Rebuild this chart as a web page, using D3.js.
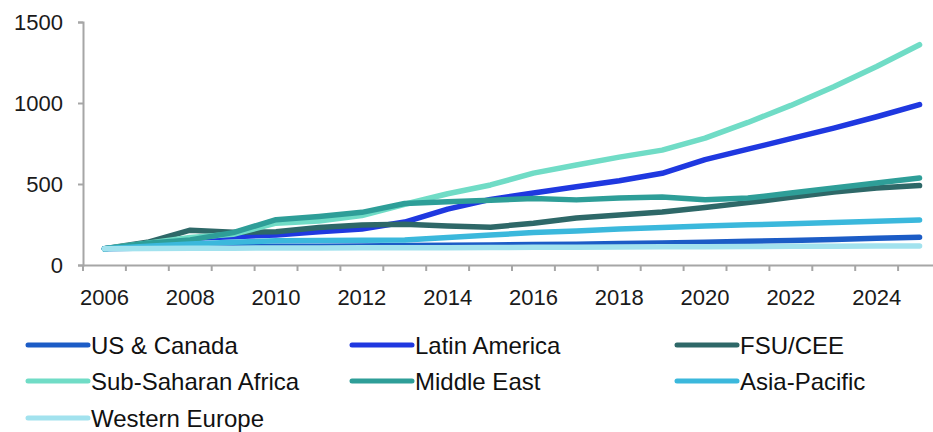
<!DOCTYPE html>
<html>
<head>
<meta charset="utf-8">
<script src="https://cdn.jsdelivr.net/npm/d3@7"></script>
<style>
  body { margin: 0; background: #fff; }
  svg { font-family: "Liberation Sans", Arial, sans-serif; }
</style>
</head>
<body>
<svg id="chart" width="933" height="432"></svg>
<script>
// index, 2006 = 100
const years = d3.range(2006, 2026)
const usCanada      = [100,105,110,112,115,115,117,120,122,124,126,128,132,136,140,146,152,158,165,172]
const latinAmerica  = [100,130,165,175,185,205,222,265,345,405,445,483,520,566,650,715,780,845,915,990]
const fsuCee        = [100,140,215,202,205,232,247,252,240,233,258,290,308,327,355,385,418,450,475,490]
const subSaharan    = [100,135,170,190,258,272,305,375,440,494,567,617,666,709,783,880,985,1100,1225,1360]
const middleEast    = [100,135,155,200,280,300,325,380,390,400,410,402,413,420,403,413,444,475,506,537]
const asiaPacific   = [100,115,130,140,150,152,153,155,170,185,200,210,222,232,240,248,255,262,270,278]
const westernEurope = [100,102,103,104,105,105,106,106,107,108,109,110,111,112,113,114,115,116,117,118]
const yTicks = [0, 500, 1000, 1500]
const xLabels = [2006,2008,2010,2012,2014,2016,2018,2020,2022,2024]

const series = [
  {name: "US & Canada", values: usCanada, color: "#1c5cc6"},
  {name: "Latin America", values: latinAmerica, color: "#1f38e0"},
  {name: "FSU/CEE", values: fsuCee, color: "#2e6868"},
  {name: "Sub-Saharan Africa", values: subSaharan, color: "#70dcc6"},
  {name: "Middle East", values: middleEast, color: "#2e9e98"},
  {name: "Asia-Pacific", values: asiaPacific, color: "#3bb8dc"},
  {name: "Western Europe", values: westernEurope, color: "#a2e2ee"}
]

const svg = d3.select("#chart")
const x = d3.scaleBand().domain(years).range([83, 941])
const y = d3.scaleLinear().domain([0, 1500]).range([265, 22])
const axisColor = "#a6a6a6"

// y axis
const gy = svg.append("g").attr("transform", "translate(83,0)")
  .call(d3.axisLeft(y).tickValues(yTicks).tickSize(5).tickPadding(15).tickFormat(d3.format("d")))
gy.select(".domain").attr("stroke", axisColor).attr("stroke-width", 2)
gy.selectAll(".tick line").attr("stroke", axisColor).attr("stroke-width", 2)
gy.selectAll("text").attr("font-size", 22).attr("fill", "#1a1a1a").attr("font-family", null)

// x axis
const gx = svg.append("g").attr("transform", "translate(0,265)")
  .call(d3.axisBottom(x).tickValues(xLabels).tickSize(0).tickPadding(24))
gx.select(".domain").attr("stroke", axisColor).attr("stroke-width", 2)
gx.selectAll("text").attr("font-size", 22).attr("fill", "#1a1a1a").attr("font-family", null)
gx.selectAll(".bound").data(years).enter().append("line")
  .attr("x1", d => x(d)).attr("x2", d => x(d))
  .attr("y1", 0).attr("y2", 6)
  .attr("stroke", axisColor).attr("stroke-width", 2)

// lines
const line = d3.line()
  .x((d, i) => x(years[i]) + x.bandwidth() / 2)
  .y(d => y(d))

svg.append("g").selectAll("path").data(series).enter().append("path")
  .attr("d", d => line(d.values))
  .attr("fill", "none")
  .attr("stroke", d => d.color)
  .attr("stroke-width", 5.5)
  .attr("stroke-linejoin", "round")
  .attr("stroke-linecap", "round")

// legend
const colX = [28, 352, 677]
const rowY = [345, 381, 418]
const leg = svg.append("g").selectAll("g").data(series).enter().append("g")
  .attr("transform", (d, i) => "translate(" + colX[i % 3] + "," + rowY[Math.floor(i / 3)] + ")")
leg.append("line")
  .attr("x1", 0).attr("x2", 60).attr("y1", 0).attr("y2", 0)
  .attr("stroke", d => d.color).attr("stroke-width", 5).attr("stroke-linecap", "round")
leg.append("text")
  .attr("x", 63).attr("y", 0).attr("dy", "0.36em")
  .attr("font-size", 24).attr("fill", "#111")
  .text(d => d.name)
</script>
</body>
</html>
